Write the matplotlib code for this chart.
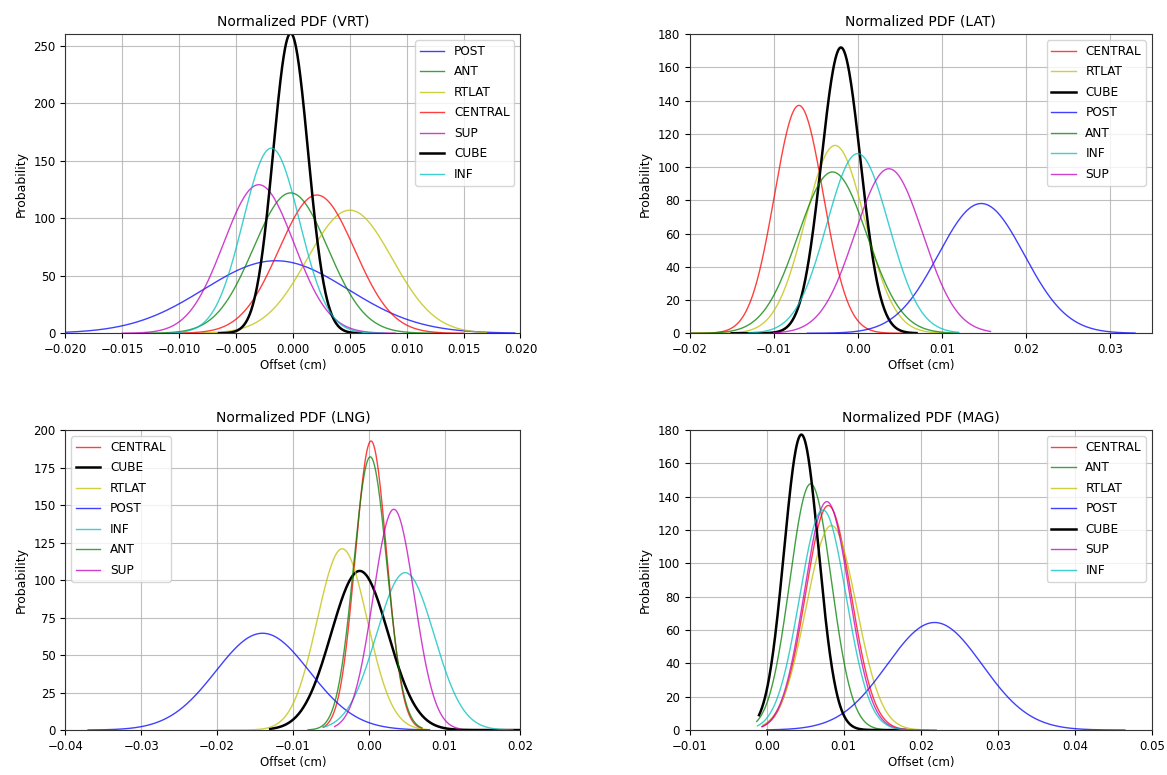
import numpy as np
import matplotlib
matplotlib.use('Agg')
import matplotlib.pyplot as plt

# ------------------------------------------------------------
# Gaussian fit parameters (cm)
# mean, sigma, first/last sample of the plotted range
# ------------------------------------------------------------
vrt_labels = ['POST', 'ANT', 'RTLAT', 'CENTRAL', 'SUP', 'CUBE', 'INF']
vrt_mean = [-0.0015, -0.0002, 0.0050, 0.0021, -0.0030, -0.0002, -0.0019]
vrt_sigma = [0.00633, 0.00327, 0.00373, 0.00332, 0.00309, 0.00153, 0.00248]
vrt_lo = [-0.0200, -0.0130, -0.0080, -0.0110, -0.0150, -0.0065, -0.0110]
vrt_hi = [0.0195, 0.0130, 0.0170, 0.0150, 0.0090, 0.0060, 0.0080]

lat_labels = ['CENTRAL', 'RTLAT', 'CUBE', 'POST', 'ANT', 'INF', 'SUP']
lat_mean = [-0.0070, -0.0027, -0.0020, 0.0147, -0.0030, 0.0000, 0.0037]
lat_sigma = [0.00291, 0.00353, 0.00232, 0.00511, 0.00411, 0.00369, 0.00403]
lat_lo = [-0.0200, -0.0200, -0.0150, -0.0060, -0.0200, -0.0130, -0.0100]
lat_hi = [0.0060, 0.0100, 0.0070, 0.0330, 0.0120, 0.0120, 0.0158]

lng_labels = ['CENTRAL', 'CUBE', 'RTLAT', 'POST', 'INF', 'ANT', 'SUP']
lng_mean = [0.0003, -0.0012, -0.0035, -0.0140, 0.0048, 0.0002, 0.0033]
lng_sigma = [0.00207, 0.00376, 0.00330, 0.00618, 0.00380, 0.00219, 0.00271]
lng_lo = [-0.0060, -0.0130, -0.0200, -0.0370, -0.0060, -0.0080, -0.0045]
lng_hi = [0.0070, 0.0200, 0.0080, 0.0080, 0.0190, 0.0070, 0.0120]

mag_labels = ['CENTRAL', 'ANT', 'RTLAT', 'POST', 'CUBE', 'SUP', 'INF']
mag_mean = [0.0080, 0.0057, 0.0084, 0.0218, 0.0045, 0.0078, 0.0073]
mag_sigma = [0.00296, 0.00270, 0.00325, 0.00618, 0.00225, 0.00291, 0.00302]
mag_lo = [-0.0006, -0.0013, -0.0005, 0.0000, -0.0010, -0.0006, -0.0012]
mag_hi = [0.0200, 0.0170, 0.0210, 0.0465, 0.0180, 0.0220, 0.0200]

colors = {'POST': 'b', 'ANT': 'g', 'RTLAT': 'y', 'CENTRAL': 'r',
          'SUP': 'm', 'CUBE': 'k', 'INF': 'c'}

panels = [
    ('VRT', vrt_labels, vrt_mean, vrt_sigma, vrt_lo, vrt_hi,
     (-0.02, 0.02), (0, 260), np.arange(-0.02, 0.0201, 0.005), 'upper right'),
    ('LAT', lat_labels, lat_mean, lat_sigma, lat_lo, lat_hi,
     (-0.02, 0.035), (0, 180), np.arange(-0.02, 0.031, 0.01), 'upper right'),
    ('LNG', lng_labels, lng_mean, lng_sigma, lng_lo, lng_hi,
     (-0.04, 0.02), (0, 200), np.arange(-0.04, 0.021, 0.01), 'upper left'),
    ('MAG', mag_labels, mag_mean, mag_sigma, mag_lo, mag_hi,
     (-0.01, 0.05), (0, 180), np.arange(-0.01, 0.051, 0.01), 'upper right'),
]

positions = [
    [0.056, 0.570, 0.390, 0.386],
    [0.591, 0.570, 0.396, 0.386],
    [0.056, 0.058, 0.390, 0.387],
    [0.591, 0.058, 0.396, 0.387],
]

plt.rcParams['font.size'] = 8.5

fig = plt.figure(figsize=(11.67, 7.75), dpi=100)

for pos, (name, labels, mu, sd, lo, hi, xlim, ylim, xt, loc) in zip(positions, panels):
    ax = fig.add_axes(pos)
    for lab, m, s, a, b in zip(labels, mu, sd, lo, hi):
        x = np.linspace(a, b, 300)
        y = np.exp(-0.5 * ((x - m) / s) ** 2) / (s * np.sqrt(2 * np.pi))
        lw = 1.8 if lab == 'CUBE' else 1.0
        alpha = 1.0 if lab == 'CUBE' else 0.75
        ax.plot(x, y, color=colors[lab], lw=lw, alpha=alpha, label=lab)
    ax.set_xlim(*xlim)
    ax.set_ylim(*ylim)
    ax.set_xticks(xt)
    if name == 'VRT':
        ax.set_xticklabels([f'{v:.3f}'.replace('-', '\u2212') for v in xt])
    else:
        ax.set_xticklabels([f'{v:.2f}'.replace('-', '\u2212') for v in xt])
    ax.grid(True, color='#b0b0b0', lw=0.8, alpha=0.8)
    ax.set_title(f'Normalized PDF ({name})', fontsize=10)
    ax.set_xlabel('Offset (cm)', fontsize=8.5, labelpad=2)
    ax.set_ylabel('Probability', fontsize=9)
    ax.legend(loc=loc, fontsize=8.7, framealpha=0.8, labelspacing=0.62)
    for sp in ax.spines.values():
        sp.set_color('#333333')

fig.savefig('out.png', dpi=100)
